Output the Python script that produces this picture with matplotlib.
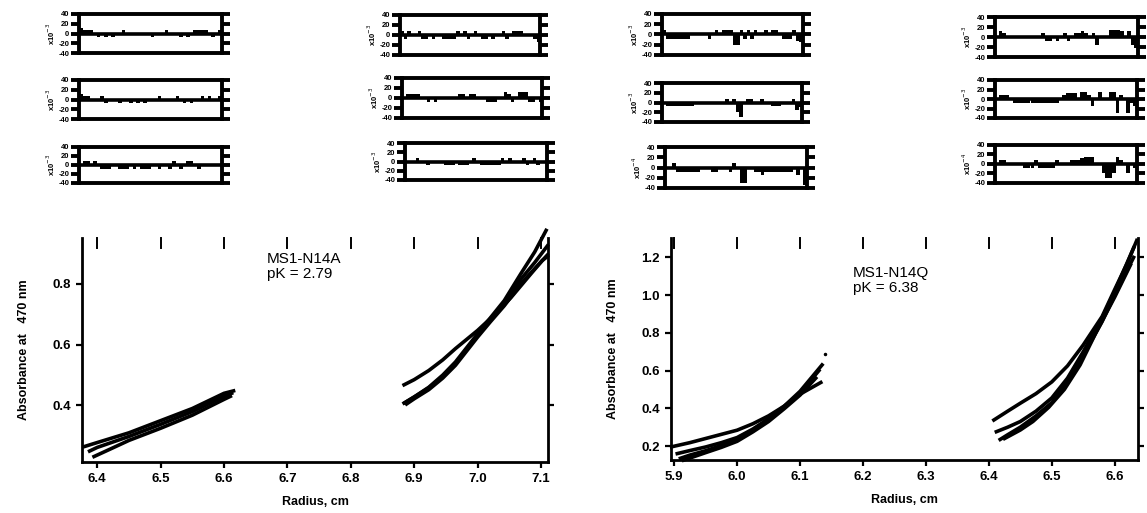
import numpy as np
import matplotlib
matplotlib.use('Agg')
import matplotlib.pyplot as plt

plt.rcParams['font.family'] = ['Liberation Sans', 'DejaVu Sans']

W, H = 1147, 513

# ---- main curves (radius cm, absorbance) ----
# MS1-N14A, short column
a1_x = [6.380, 6.40, 6.45, 6.50, 6.55, 6.60, 6.615]
a1_y = [0.265, 0.278, 0.310, 0.350, 0.390, 0.440, 0.448]
a2_x = [6.388, 6.40, 6.45, 6.50, 6.55, 6.60, 6.612]
a2_y = [0.250, 0.262, 0.298, 0.338, 0.380, 0.430, 0.440]
a3_x = [6.395, 6.42, 6.45, 6.50, 6.55, 6.60, 6.610]
a3_y = [0.232, 0.256, 0.285, 0.325, 0.368, 0.420, 0.430]
# MS1-N14A, long column
a4_x = [6.884, 6.900, 6.923, 6.945, 6.965, 7.000, 7.030, 7.053, 7.084, 7.102, 7.110]
a4_y = [0.468, 0.485, 0.515, 0.550, 0.587, 0.647, 0.705, 0.756, 0.833, 0.877, 0.890]
a5_x = [6.884, 6.900, 6.923, 6.945, 6.965, 7.000, 7.020, 7.042, 7.068, 7.090, 7.108]
a5_y = [0.408, 0.428, 0.460, 0.500, 0.543, 0.636, 0.688, 0.745, 0.833, 0.905, 0.976]
a6_x = [6.886, 6.900, 6.923, 6.945, 6.965, 7.000, 7.020, 7.042, 7.068, 7.090, 7.110]
a6_y = [0.410, 0.428, 0.458, 0.495, 0.538, 0.630, 0.680, 0.735, 0.815, 0.870, 0.925]
a7_x = [6.888, 6.900, 6.923, 6.945, 6.965, 7.000, 7.020, 7.042, 7.068, 7.090, 7.110]
a7_y = [0.405, 0.422, 0.452, 0.490, 0.532, 0.625, 0.675, 0.728, 0.800, 0.850, 0.895]

# MS1-N14Q, short column
q1_x = [5.896, 5.925, 5.950, 5.975, 6.000, 6.025, 6.050, 6.075, 6.100, 6.133]
q1_y = [0.196, 0.218, 0.240, 0.262, 0.284, 0.318, 0.360, 0.412, 0.475, 0.537]
q2_x = [5.905, 5.925, 5.950, 5.975, 6.000, 6.025, 6.050, 6.075, 6.100, 6.135]
q2_y = [0.160, 0.176, 0.195, 0.218, 0.245, 0.290, 0.345, 0.412, 0.490, 0.630]
q3_x = [5.910, 5.925, 5.950, 5.975, 6.000, 6.025, 6.050, 6.075, 6.100, 6.130]
q3_y = [0.135, 0.152, 0.175, 0.203, 0.235, 0.282, 0.338, 0.405, 0.480, 0.600]
q4_x = [5.915, 5.930, 5.950, 5.975, 6.000, 6.025, 6.050, 6.075, 6.100, 6.125]
q4_y = [0.125, 0.142, 0.165, 0.193, 0.225, 0.275, 0.330, 0.398, 0.470, 0.560]
# MS1-N14Q, long column
q5_x = [6.408, 6.430, 6.450, 6.475, 6.500, 6.525, 6.550, 6.580, 6.600, 6.620, 6.635]
q5_y = [0.338, 0.385, 0.427, 0.478, 0.540, 0.625, 0.736, 0.887, 1.030, 1.170, 1.290]
q6_x = [6.412, 6.430, 6.450, 6.475, 6.500, 6.525, 6.550, 6.580, 6.600, 6.630]
q6_y = [0.276, 0.300, 0.330, 0.385, 0.455, 0.560, 0.700, 0.880, 1.020, 1.250]
q7_x = [6.418, 6.430, 6.450, 6.475, 6.500, 6.525, 6.550, 6.580, 6.600, 6.630]
q7_y = [0.235, 0.260, 0.300, 0.360, 0.430, 0.540, 0.680, 0.860, 1.000, 1.200]
q8_x = [6.425, 6.450, 6.470, 6.495, 6.520, 6.545, 6.570, 6.600, 6.625]
q8_y = [0.240, 0.285, 0.330, 0.405, 0.500, 0.630, 0.800, 0.990, 1.160]

# ---- residuals (x10^-3), 40 bins per panel ----
res_c1r1 = [12, 8, 8, 8, 0, -8, 0, -8, 0, -8, 0, 0, 8, 0, 0, 0, 0, 0, 0, 0,
            -8, 0, 0, 0, 8, 0, 0, 0, -8, 0, -8, 0, 8, 8, 8, 8, 0, -8, 0, 8]
res_c1r2 = [12, 8, 8, 0, 0, 0, 8, -8, 0, 0, 0, -8, 0, 0, -8, 0, -8, 0, -8, 0,
            0, 0, 8, 0, 0, 0, 0, 8, 0, -8, 0, -8, 0, 0, 8, 0, 8, 0, 0, 8]
res_c1r3 = [0, 8, 8, 0, 8, 0, -8, -8, -8, 0, 0, -8, -8, -8, 0, -8, 0, -8, -8, -8,
            0, 0, -8, 0, 0, -8, 8, 0, -8, 0, 8, 8, 0, -8, 0, 0, 0, 0, 0, 0]
res_c2r1 = [8, -8, 8, 0, 0, 8, -8, -8, 0, -8, 0, 0, -8, -8, -8, -8, 8, 0, 8, -8,
            0, 8, 0, -8, -8, 0, -8, 0, 0, 8, -8, 0, 8, 8, 8, 0, 0, 0, -8, -15]
res_c2r2 = [0, 8, 8, 8, 8, 0, 0, -8, 0, -8, 0, 0, 0, 0, 0, 0, 8, 8, 0, 8,
            8, 0, 0, 0, -8, -8, -8, 0, 0, 12, 8, -8, 0, 12, 12, 12, -8, -8, 0, -8]
res_c2r3 = [0, 0, 0, 8, 0, 0, -8, 0, 0, 0, 0, -8, -8, -8, 0, -8, -8, -8, 0, 8,
            0, -8, -8, -8, -8, -8, -8, 8, 0, 8, 0, 0, 0, 8, -8, 0, 8, -8, 0, 0]
res_c3r1 = [8, -8, -8, -8, -8, -8, -8, -8, 0, 0, 0, 0, 0, -8, 0, 8, 0, 8, 8, 8,
            -20, -20, 8, -8, 8, -8, 8, 0, 0, 8, 0, 8, 8, 0, -8, -8, -8, 8, -12, -15]
res_c3r2 = [0, -8, -8, -8, -8, -8, -8, -8, -8, 0, 0, 0, 0, 0, 0, 0, 0, 0, 8, 0,
            8, -20, -30, 0, 8, 8, 0, 0, 8, 0, 0, -8, -8, -8, 0, 0, 0, 8, -15, -10]
res_c3r3 = [0, 0, 8, -8, -8, -8, -8, -8, -8, -8, 0, 0, 0, -8, -8, 0, 0, 0, -8, 8,
            0, -30, -30, 0, 0, -8, -8, -15, -8, -8, -8, -8, -8, -8, -8, -8, 0, -15, 0, -35]
res_c4r1 = [0, 12, 8, 0, 0, 0, 0, 0, 0, 0, 0, 0, 0, 8, -8, -8, 0, -8, 0, 8,
            -8, 0, 8, 8, 12, 8, 0, 8, -15, 0, 0, 0, 15, 15, 15, 12, 0, 12, -15, -22]
res_c4r2 = [0, 8, 8, 8, 0, -8, -8, -8, -8, -8, -8, -8, -8, -8, -8, -8, -8, -8, 0, 8,
            12, 12, 12, 0, 15, 15, 8, -15, 0, 15, 0, 0, 15, 15, -30, 8, 0, -30, -8, -15]
res_c4r3 = [0, 8, 8, 0, 0, 0, 0, 0, -8, -8, -8, 8, -8, -8, -8, -8, -8, 8, 0, 0,
            0, 8, 8, 8, 12, 15, 15, 15, 0, 0, -20, -30, -30, -20, 15, 8, 0, -20, 0, -8]

res_ticks = [-40, -20, 0, 20, 40]
left_xticks = [6.4, 6.5, 6.6, 6.7, 6.8, 6.9, 7.0, 7.1]
left_yticks = [0.4, 0.6, 0.8]
right_xticks = [5.9, 6.0, 6.1, 6.2, 6.3, 6.4, 6.5, 6.6]
right_yticks = [0.2, 0.4, 0.6, 0.8, 1.0, 1.2]


def place(fig, x0, x1, y0, y1):
    return fig.add_axes([x0 / W, 1 - y1 / H, (x1 - x0) / W, (y1 - y0) / H])


def style_main(ax, xticks, yticks):
    for s in ['left', 'bottom', 'right']:
        ax.spines[s].set_linewidth(2.0)
    ax.spines['top'].set_visible(False)
    ax.set_xticks(xticks)
    ax.set_yticks(yticks)
    ax.set_xticklabels(['%.1f' % v for v in xticks], fontweight='bold', fontsize=9.5)
    ax.set_yticklabels(['%.1f' % v for v in yticks], fontweight='bold', fontsize=9.5)
    ax.tick_params(axis='both', direction='out', length=4, width=1.6, pad=4)
    ax.tick_params(right=True, top=False)
    ax.set_xlabel('Radius, cm', fontweight='bold', fontsize=9, labelpad=8)
    ax.set_ylabel('Absorbance at   470 nm', fontweight='bold', fontsize=9, labelpad=16)
    # inward top ticks
    for xv in xticks:
        ax.plot([xv, xv], [0.955, 1.0], color='k', lw=1.4,
                transform=ax.get_xaxis_transform(), clip_on=False)


def style_res(ax, vals, exp):
    ax.bar(np.arange(len(vals)), vals, width=1.0, color='k')
    ax.axhline(0, color='k', lw=2.6)
    ax.set_xlim(-0.5, len(vals) - 0.5)
    ax.set_ylim(-40, 40)
    for s in ax.spines.values():
        s.set_linewidth(2.8)
    ax.set_xticks([])
    ax.set_yticks(res_ticks)
    ax.set_yticklabels([str(v) for v in res_ticks], fontweight='bold', fontsize=5.5)
    ax.tick_params(axis='y', direction='out', length=6, width=2.8, pad=1,
                   right=True, labelright=False)
    ax.set_ylabel('x10$^{%d}$' % exp, fontsize=5.5, fontweight='bold', labelpad=1)


fig = plt.figure(figsize=(W / 100, H / 100), dpi=100)

# left main panel
ax1 = place(fig, 82, 548, 238, 462)
for xs, ys in [(a1_x, a1_y), (a2_x, a2_y), (a3_x, a3_y), (a4_x, a4_y),
               (a5_x, a5_y), (a6_x, a6_y), (a7_x, a7_y)]:
    ax1.plot(xs, ys, color='k', lw=2.6, solid_joinstyle='round', clip_on=False)
ax1.set_xlim(6.376, 7.111)
ax1.set_ylim(0.214, 0.951)
style_main(ax1, left_xticks, left_yticks)
ax1.text(6.668, 0.905, 'MS1-N14A\npK = 2.79', fontsize=11, va='top', ha='left',
         linespacing=1.1)

# right main panel
ax2 = place(fig, 671, 1138, 238, 460)
for xs, ys in [(q1_x, q1_y), (q2_x, q2_y), (q3_x, q3_y), (q4_x, q4_y),
               (q5_x, q5_y), (q6_x, q6_y), (q7_x, q7_y), (q8_x, q8_y)]:
    ax2.plot(xs, ys, color='k', lw=2.6, solid_joinstyle='round', clip_on=False)
ax2.plot([6.14], [0.69], 'k.', ms=3)
ax2.set_xlim(5.895, 6.637)
ax2.set_ylim(0.126, 1.303)
style_main(ax2, right_xticks, right_yticks)
ax2.text(6.184, 1.155, 'MS1-N14Q\npK = 6.38', fontsize=11, va='top', ha='left',
         linespacing=1.1)

# residual panels
panels = [
    ((79, 222, 14, 53), res_c1r1, -3),
    ((79, 222, 80, 119), res_c1r2, -3),
    ((79, 222, 147, 183), res_c1r3, -3),
    ((400, 540, 15, 55), res_c2r1, -3),
    ((402, 542, 78, 118), res_c2r2, -3),
    ((405, 547, 143, 180), res_c2r3, -3),
    ((662, 803, 14, 55), res_c3r1, -3),
    ((662, 802, 83, 122), res_c3r2, -3),
    ((665, 807, 147, 188), res_c3r3, -4),
    ((995, 1138, 17, 57), res_c4r1, -3),
    ((995, 1137, 80, 118), res_c4r2, -3),
    ((995, 1137, 145, 183), res_c4r3, -4),
]
for (x0, x1, y0, y1), vals, exp in panels:
    ax = place(fig, x0, x1, y0, y1)
    style_res(ax, vals, exp)

fig.savefig('out.png', dpi=100)
